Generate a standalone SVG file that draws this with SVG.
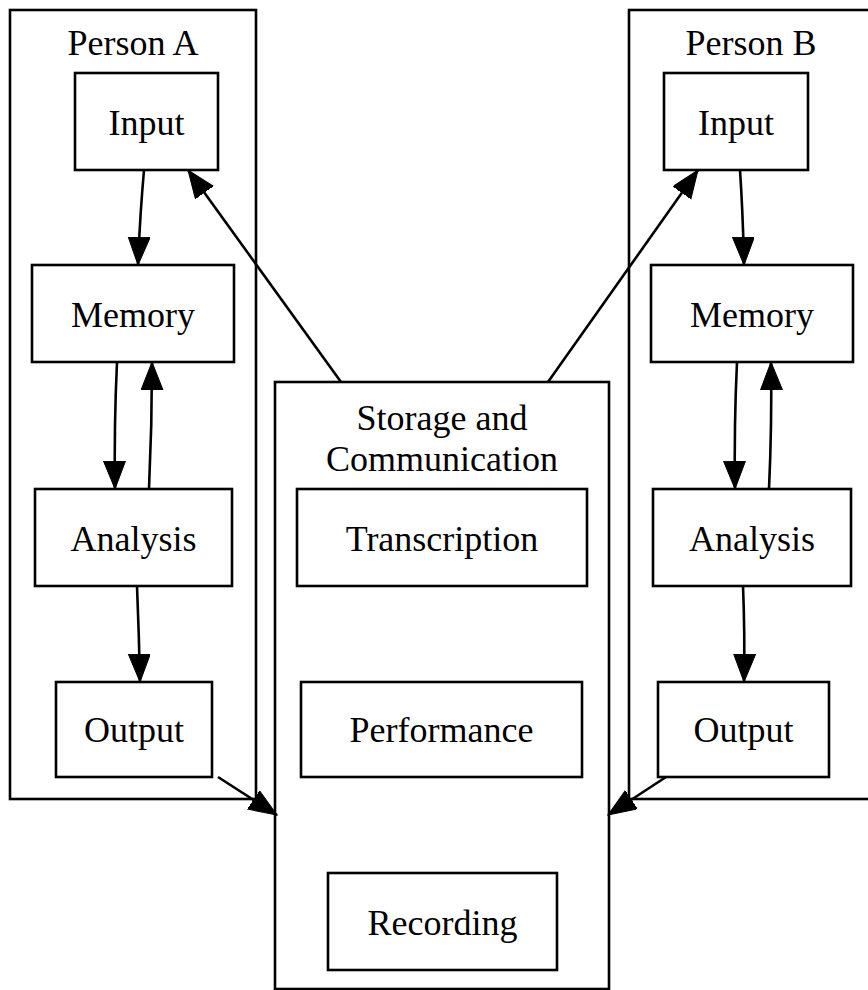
<svg xmlns="http://www.w3.org/2000/svg" width="868" height="990" viewBox="0 0 868 990">
<style>
rect{fill:none;stroke:#000;stroke-width:2.6}
text{font-family:"Liberation Serif","Times New Roman",serif;font-size:36px;fill:#000;text-anchor:middle}
.e{fill:none;stroke:#000;stroke-width:2.6}
</style>
<defs>
<marker id="ah" markerUnits="userSpaceOnUse" markerWidth="32" markerHeight="24" refX="28" refY="11" orient="auto">
<path d="M0,0 L28,11 L0,22 Z" fill="#000" stroke="#000" stroke-width="1"/>
</marker>
</defs>
<rect x="0" y="0" width="868" height="990" style="fill:#fff;stroke:none"/>
<g id="clusterA">
<rect x="10" y="10" width="246" height="789"/>
<text x="133" y="55">Person A</text>
</g>
<g id="clusterS">
<rect x="275" y="382" width="334" height="607"/>
<text x="442" y="430">Storage and</text>
<text x="442" y="471">Communication</text>
</g>
<g id="clusterB">
<rect x="629" y="10" width="250" height="789"/>
<text x="751" y="55">Person B</text>
</g>
<g id="inputA"><rect x="75" y="73" width="143" height="97"/><text x="146.5" y="135">Input</text></g>
<g id="memoryA"><rect x="32" y="265" width="202" height="97"/><text x="133" y="327">Memory</text></g>
<g id="analysisA"><rect x="35" y="489" width="197" height="97"/><text x="133.5" y="551">Analysis</text></g>
<g id="outputA"><rect x="56" y="682" width="156" height="95"/><text x="134" y="742">Output</text></g>
<g id="inputB"><rect x="664" y="73" width="144" height="97"/><text x="736" y="135">Input</text></g>
<g id="memoryB"><rect x="651" y="265" width="202" height="97"/><text x="752" y="327">Memory</text></g>
<g id="analysisB"><rect x="653" y="489" width="198" height="97"/><text x="752" y="551">Analysis</text></g>
<g id="outputB"><rect x="658" y="682" width="171" height="95"/><text x="743.5" y="742">Output</text></g>
<g id="transcription"><rect x="297" y="489" width="290" height="97"/><text x="442" y="551">Transcription</text></g>
<g id="performance"><rect x="301" y="682" width="281" height="95"/><text x="441.5" y="742">Performance</text></g>
<g id="recording"><rect x="328" y="873" width="229" height="97"/><text x="442.5" y="935">Recording</text></g>
<g id="edges">
<path class="e" d="M144,170 Q140,215 138,265" marker-end="url(#ah)"/>
<path class="e" d="M117,362 Q114,425 115,489" marker-end="url(#ah)"/>
<path class="e" d="M149,489 Q152,425 152,362" marker-end="url(#ah)"/>
<path class="e" d="M137,586 Q139,635 140,682" marker-end="url(#ah)"/>
<path class="e" d="M341,382 L188,170" marker-end="url(#ah)"/>
<path class="e" d="M548,382 L698,170" marker-end="url(#ah)"/>
<path class="e" d="M740,170 Q743,215 744,265" marker-end="url(#ah)"/>
<path class="e" d="M737,362 Q734,425 735,489" marker-end="url(#ah)"/>
<path class="e" d="M769,489 Q772,425 771,362" marker-end="url(#ah)"/>
<path class="e" d="M743,586 Q745,635 744,682" marker-end="url(#ah)"/>
<path class="e" d="M218,777 L277,815" marker-end="url(#ah)"/>
<path class="e" d="M666,777 L608,815" marker-end="url(#ah)"/>
</g>
</svg>
